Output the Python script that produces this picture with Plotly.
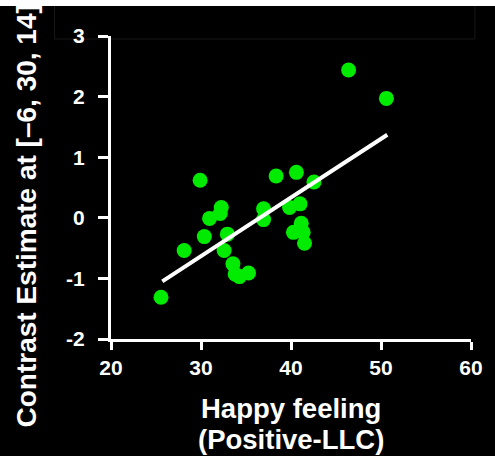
import plotly.graph_objects as go

# Happy feeling score vs. contrast estimate, one point per subject
happy_feeling = [46.4, 50.6, 29.9, 38.35, 40.6, 42.55, 32.25, 32.14, 30.95,
                 36.95, 36.95, 39.84, 41.0, 41.14, 40.27, 41.35, 41.5, 30.37,
                 32.93, 28.13, 32.57, 33.55, 33.8, 34.27, 35.28, 25.56]
contrast_estimate = [2.44, 1.97, 0.62, 0.69, 0.75, 0.59, 0.17, 0.07, -0.01,
                     0.15, -0.03, 0.17, 0.23, -0.09, -0.24, -0.24, -0.42, -0.31,
                     -0.27, -0.54, -0.54, -0.76, -0.93, -0.97, -0.91, -1.31]

# Fitted regression line endpoints
fit_x = [25.7, 50.7]
fit_y = [-1.05, 1.37]

x_ticks = [20, 30, 40, 50, 60]
y_ticks = [-2, -1, 0, 1, 2, 3]
y_tick_labels = ["-2", "-1", "0", "1", "2", "3"]

font_family = "Liberation Sans, Arial, sans-serif"

fig = go.Figure()
fig.add_trace(go.Scatter(
    x=happy_feeling, y=contrast_estimate, mode="markers",
    marker=dict(size=15, color="rgb(0,235,0)", line=dict(width=0)),
    hoverinfo="skip", showlegend=False,
))
fig.add_trace(go.Scatter(
    x=fit_x, y=fit_y, mode="lines",
    line=dict(color="white", width=4),
    hoverinfo="skip", showlegend=False,
))

axis_common = dict(
    showgrid=False, zeroline=False, showline=True, linecolor="white",
    linewidth=3, ticks="outside", tickcolor="white", tickwidth=3,
    tickfont=dict(family=font_family, size=21, color="white", weight="bold"),
)

y_title_font = dict(family=font_family, size=28, color="white", weight="bold")
x_title_font = dict(family=font_family, size=27.5, color="white", weight="bold")

fig.update_layout(
    width=495, height=456,
    margin=dict(l=111, r=15, t=36, b=117),
    paper_bgcolor="black", plot_bgcolor="black",
    xaxis=dict(range=[20, 60], tickvals=x_ticks, ticklen=8, **axis_common),
    yaxis=dict(range=[-2, 3], tickvals=y_ticks, ticktext=y_tick_labels,
               ticklen=10, ticklabelstandoff=9, **axis_common),
    shapes=[
        # faint frame near the top edge
        dict(type="rect", xref="paper", yref="paper",
             x0=-0.157, x1=1.011, y0=0.990, y1=1.12,
             fillcolor="rgba(0,0,0,0)", line=dict(width=1, color="rgb(24,24,24)"),
             layer="below"),
        # white strip along the top edge
        dict(type="rect", xref="paper", yref="paper",
             x0=-0.35, x1=1.1, y0=1.099, y1=1.2,
             fillcolor="white", line=dict(width=0), layer="above"),
    ],
    annotations=[
        dict(text="Contrast Estimate at [\u20136, 30, 14]", xref="paper", yref="paper",
             x=-0.232, y=0.406, textangle=-90, showarrow=False,
             xanchor="center", yanchor="middle", font=y_title_font),
        dict(text="Happy feeling", xref="paper", yref="paper",
             x=0.499, y=-0.229, showarrow=False, yanchor="middle",
             font=x_title_font),
        dict(text="(Positive-LLC)", xref="paper", yref="paper",
             x=0.499, y=-0.333, showarrow=False, yanchor="middle",
             font=x_title_font),
    ],
)

fig.write_html("out.html")
